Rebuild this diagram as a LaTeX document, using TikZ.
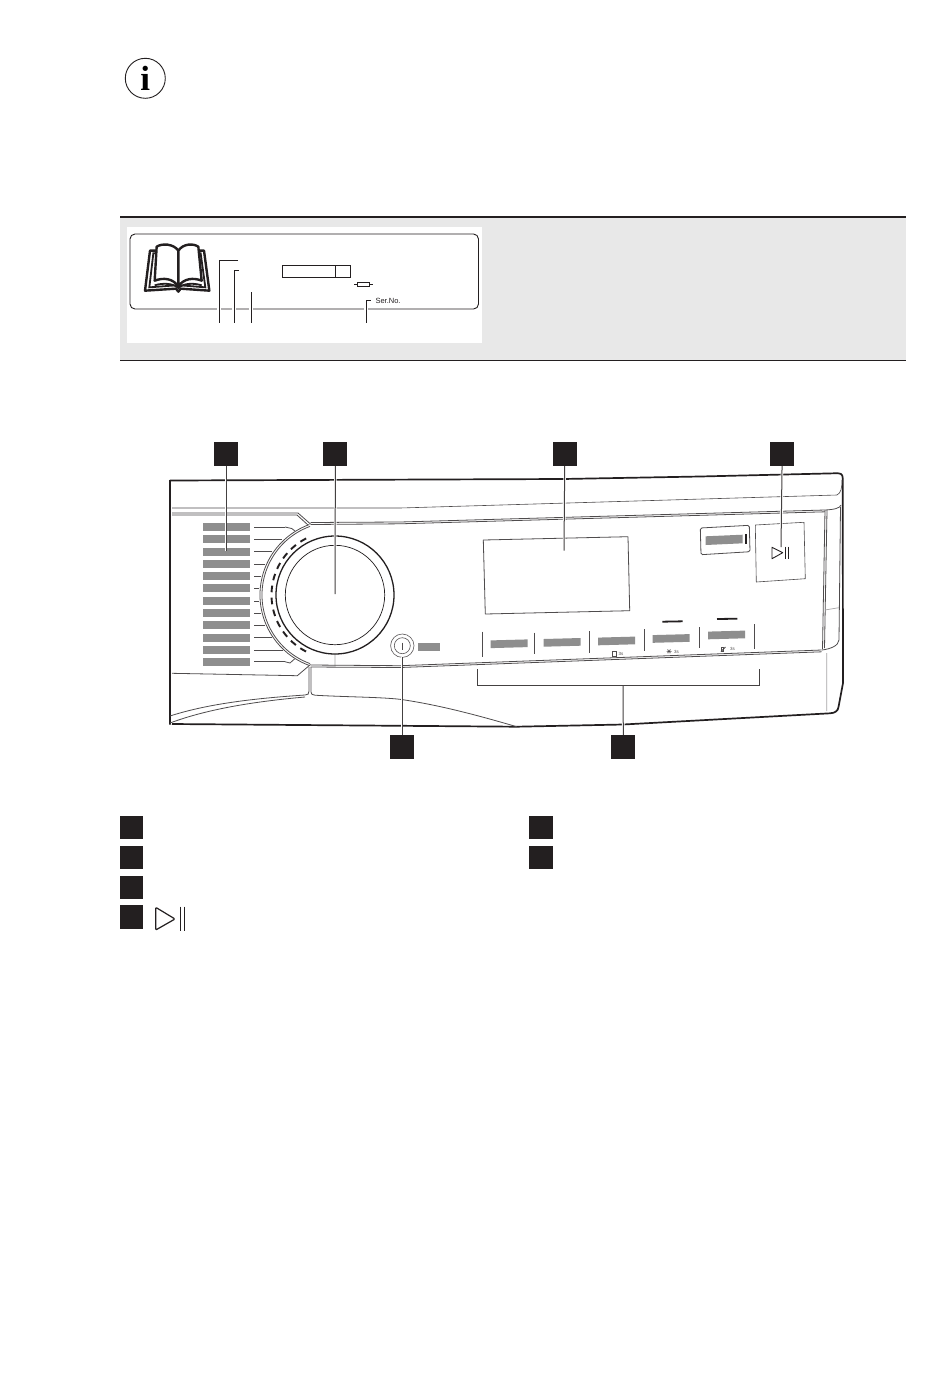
\documentclass[tikz,border=0pt]{standalone}
\usepackage{fontspec}
\setmainfont{Liberation Sans}
\newfontfamily\infofont{Liberation Serif}
\usetikzlibrary{positioning,shapes}
\definecolor{ink}{HTML}{231F20}
\definecolor{barfill}{HTML}{8E8E8E}
\definecolor{boxfill}{HTML}{E8E8E8}
\tikzset{
    marker/.style={draw=none, fill=ink, rectangle, minimum size=23.5pt, inner sep=0pt},
    leader/.style={draw=ink!85, line width=1pt, preaction={draw=white, line width=2.6pt}},
    outline/.style={draw=ink, line width=1.7pt, line join=round},
    edge_line/.style={draw=ink!80, line width=0.8pt, line join=round},
    faint_line/.style={draw=ink!40, line width=0.7pt},
    plate_line/.style={draw=ink, line width=0.9pt}
}
\begin{document}
\begin{tikzpicture}[x=1pt, y=-1pt, node distance=29.9pt]
    \useasboundingbox (0,0) rectangle (950,1374);
    \fill[white] (0,0) rectangle (950,1374);

    % info sign
    \node[draw=ink, line width=0.9pt, circle, minimum size=40pt, inner sep=0pt, font=\fontsize{35}{35}\selectfont\infofont\bfseries](info_sign) at (145.3,78.3) {i};

    % rating plate
    \fill[boxfill] (120,217) rectangle (906,360);
    \draw[draw=ink, line width=2pt] (120,217) -- (906,217);
    \draw[draw=ink, line width=0.8pt] (120,360.5) -- (906,360.5);
    \fill[white] (127,227) rectangle (482,343);
    \draw[plate_line, rounded corners=5pt] (130,234) rectangle (478.5,309);
    \draw[plate_line] (282.3,265.3) rectangle (350.7,277.3);
    \draw[plate_line] (335.7,265.3) -- (335.7,277.3);
    \draw[plate_line, line width=0.7pt] (357.7,282.7) rectangle (369.7,286);
    \draw[plate_line, line width=0.7pt] (354.3,284.4) -- (357.7,284.4) (369.7,284.4) -- (373.3,284.4);
    \draw[draw=white, line width=4pt] (219.3,303) -- (219.3,315) (234.3,303) -- (234.3,315) (251.3,303) -- (251.3,315) (366.3,303) -- (366.3,315);
    \draw[plate_line] (238,260.7) -- (219.3,260.7) -- (219.3,323);
    \draw[plate_line] (239,270.7) -- (234.3,270.7) -- (234.3,323);
    \draw[plate_line] (251.3,292) -- (251.3,323);
    \draw[plate_line] (370.7,300.7) -- (366.3,300.7) -- (366.3,323);
    \node[anchor=west, inner sep=0pt, font=\fontsize{7.5}{7.5}\selectfont, text=ink](serial_no) at (375.3,300.7) {Ser.No.};

    % book
    \begin{scope}[shift={(110,40)}, scale=1/3]
        \draw[draw=ink, line width=2.4pt, line join=round, fill=white] (105,752) -- (120,632) -- (282,632) -- (298,752) -- (212,746) -- (205,755) -- (198,746) -- cycle;
        \draw[draw=ink, line width=1.8pt, fill=white] (118,742) -- (130,640) -- (272,640) -- (286,742) -- (212,736) -- (198,736) -- cycle;
        \draw[draw=ink, line width=2.4pt, line join=round, fill=white] (205,740) -- (205,632) .. controls (190,610) and (155,610) .. (140,620) -- (134,722) .. controls (160,712) and (190,715) .. (205,740) .. controls (220,715) and (250,712) .. (275,722) -- (265,620) .. controls (250,610) and (220,610) .. (205,632);
        \draw[draw=ink, line width=1.8pt] (134,736) .. controls (160,728) and (190,730) .. (205,744) .. controls (220,730) and (250,728) .. (275,736);
    \end{scope}

    % panel body
    \draw[outline] (170,480.5) -- (563,479) -- (700,476.5) -- (835,473.3) .. controls (841,473) and (842.5,474) .. (842.7,478) -- (843,683) -- (838.5,707) .. controls (838,711) and (835,713) .. (830,713.3) -- (623,724.5) -- (516.7,726.7) -- (172,724) (170,480) -- (170,724.5);
    \draw[edge_line, line width=0.6pt] (172,508) -- (400,508) -- (837,495) .. controls (841,493) and (842,488) .. (842,480);
    \draw[edge_line] (172,513) -- (298,513) -- (310.5,524);
    \draw[edge_line] (172,515) -- (297,515) -- (308,525);
    \draw[edge_line] (310.5,522.5) -- (400,522) -- (825,510) .. controls (835,509.5) and (840,508) .. (841,505);
    \draw[edge_line] (310.5,524.5) -- (400,523.8) -- (825,511.8);
    \draw[edge_line] (825,510) -- (822.5,649) (827,510) -- (824.5,648);
    \draw[edge_line] (840.5,507) -- (839,640) .. controls (838.5,646) and (830,649) .. (822,650);
    \draw[faint_line] (825,610) -- (838.7,607.7) (826.7,653) -- (826.7,711) (335,654) -- (335,666);
    \draw[edge_line] (310.5,665) -- (400,665.7) -- (821.7,650);
    \draw[edge_line] (310.5,667) -- (400,667.5) -- (821.7,651.8);
    \draw[edge_line] (172,673.3) -- (297.3,675.7) -- (310.5,664.5);
    \draw[edge_line] (309,667) -- (309,691) .. controls (309,694) and (308,695) .. (305,695) .. controls (260,698) and (210,703) .. (170,716);
    \draw[edge_line] (311,667) -- (311,692) .. controls (311,694) and (312,695) .. (315,695.2) .. controls (345,697) and (380,697) .. (400,699.3) .. controls (440,705) and (480,716) .. (516.7,726.7);
    \draw[edge_line] (305,697) .. controls (260,701) and (210,708) .. (170,723);

    % dial
    \draw[edge_line] (335,595) ++(-110:73) arc[start angle=-110, delta angle=-140, radius=73];
    \draw[edge_line] (335,595) ++(-110:75) arc[start angle=-110, delta angle=-140, radius=75];
    \draw[draw=ink, line width=1.3pt] (335,595) circle (59);
    \draw[draw=ink, line width=0.7pt] (335,595) circle (49.7);
    \foreach \dashangle in {0,...,11}
        \draw[draw=ink, line width=1.9pt] (335,595) ++({-(120+\dashangle*10.9-3)}:63.5) arc[start angle={-(120+\dashangle*10.9-3)}, delta angle=-6, radius=63.5];

    % program list
    \foreach \bary/\tickend in {527/285,539.3/281.7,551.7/271.7,564.3/265,576.3/261,588.3/259,601/259,613.3/261,625.3/265,637.7/271.7,650/282.7,661.7/285}{
        \fill[barfill] (202.7,\bary-3.9) rectangle (250,\bary+3.9);
        \draw[edge_line] (254,\bary) -- (\tickend,\bary);
    }
    \draw[edge_line] (285,527) -- (291.7,528.5) -- (295,531);
    \draw[edge_line] (285,661.7) -- (290,663) -- (294.5,659);

    % display and start
    \draw[edge_line] (483.3,540) -- (628,536.7) -- (629.7,610.7) -- (485.3,614) -- cycle;
    \draw[edge_line, rounded corners=1.5pt] (700.3,528) -- (749.3,525.3) -- (750,551.7) -- (701,554.7) -- cycle;
    \fill[barfill] (705.7,536.3) -- (742.7,534.7) -- (742.7,543.3) -- (705.7,545) -- cycle;
    \fill[ink] (745.3,534.3) rectangle (747.3,544);
    \draw[edge_line, line width=0.6pt] (755.3,525) -- (804,522.3) -- (805.3,578.7) -- (756.3,582) -- cycle;
    \draw[draw=ink, line width=0.9pt, line join=round] (772,547.3) -- (782.7,552.7) -- (772,558.7) -- cycle;
    \draw[draw=ink, line width=0.8pt] (785,546.7) -- (785,558.7) (788.3,546.7) -- (788.3,558.7);

    % option buttons
    \foreach \sepx/\septop/\sepbottom in {482.7/631.7/657.3,534.7/632.7/654,589.7/631/652.7,644.3/629.3/650.7,699.3/627.3/648.3,754/624/648.7}
        \draw[edge_line] (\sepx,\septop) -- (\sepx,\sepbottom);
    \foreach \barx/\bary in {490.7/640.4,543.7/639,598/637.6,652.7/635.1,708/631.6}
        \fill[barfill] (\barx,\bary) -- ++(37,-1) -- ++(0,7.7) -- ++(-37,1) -- cycle;
    \fill[barfill] (418.3,643.3) rectangle (440,651.3);
    \draw[draw=ink, line width=1.8pt] (662.3,621.7) -- (682.7,621.3) (717,619) -- (737.3,618.7);
    \foreach \labelx/\labely in {621/654,676.5/651.7,732.5/649}
        \node[inner sep=0pt, font=\fontsize{4.5}{4.5}\selectfont, text=ink!80] at (\labelx,\labely) {3s};
    \draw[draw=ink!80, line width=0.5pt] (612,651.5) rectangle (616.5,656);
    \draw[draw=ink!80, line width=0.4pt] (666.5,651.3) -- (671.5,651.3) (669,649) -- (669,654) (667.2,649.5) -- (670.8,653.1) (670.8,649.5) -- (667.2,653.1);
    \draw[draw=ink!80, line width=1pt] (721,651.5) -- (725.5,647);
    \draw[draw=ink!80, line width=0.4pt] (720.8,647.5) rectangle (723.3,651.2);

    % power button
    \node[draw=ink!75, line width=0.6pt, circle, minimum size=23.4pt, inner sep=0pt](power_ring) at (402.3,645.7) {};
    \node[draw=ink!75, line width=0.6pt, circle, minimum size=16pt, inner sep=0pt](power_key) at (402.3,645.7) {};
    \draw[draw=ink!80, line width=0.6pt] (402.3,642.5) -- (402.3,649.5);

    % markers and their leaders
    \node[marker](marker_programs) at (226,454) {};
    \node[marker, right=85.5pt of marker_programs](marker_dial) {};
    \node[marker, right=205.5pt of marker_dial](marker_display) {};
    \node[marker, right=193.5pt of marker_display](marker_start) {};
    \node[marker](marker_power) at (402,747) {};
    \node[marker, right=197.5pt of marker_power](marker_options) {};

    \coordinate (end_programs) at (226,551);
    \coordinate (end_dial) at (335,594);
    \coordinate (end_display) at (564,550.7);
    \coordinate (end_start) at (781,547);
    \coordinate (end_power) at (402,657.4);
    \coordinate (bracket_mid) at (623,685);
    \coordinate (bracket_left) at (477.7,669.3);
    \coordinate (bracket_right) at (759,669.3);

    \draw[leader] (marker_programs) -- (end_programs);
    \draw[leader] (marker_dial) -- (end_dial);
    \draw[leader] (marker_display) -- (end_display);
    \draw[leader] (marker_start) -- (end_start);
    \draw[leader] (marker_power) -- (end_power);
    \draw[leader] (marker_options) -- (bracket_mid);
    \draw[leader] (bracket_left) |- (bracket_mid) -| (bracket_right);
    % leaders start under the squares
    \foreach \markername in {marker_programs,marker_dial,marker_display,marker_start,marker_power,marker_options}
        \fill[ink] (\markername.north west) rectangle (\markername.south east);

    % legend
    \node[marker](legend_a) at (131.5,827.5) {};
    \node[marker, below of=legend_a](legend_b) {};
    \node[marker, below of=legend_b](legend_c) {};
    \node[marker, below of=legend_c](legend_d) {};
    \node[marker](legend_e) at (541.2,827.5) {};
    \node[marker, below of=legend_e](legend_f) {};
    \draw[draw=ink, line width=1.2pt, line join=round, rounded corners=1pt] (155.7,907.3) -- (175,919) -- (155.7,930) -- cycle;
    \draw[draw=ink, line width=1pt] (180,906.7) -- (180,930.7) (184.5,906.7) -- (184.5,930.7);
\end{tikzpicture}
\end{document}
